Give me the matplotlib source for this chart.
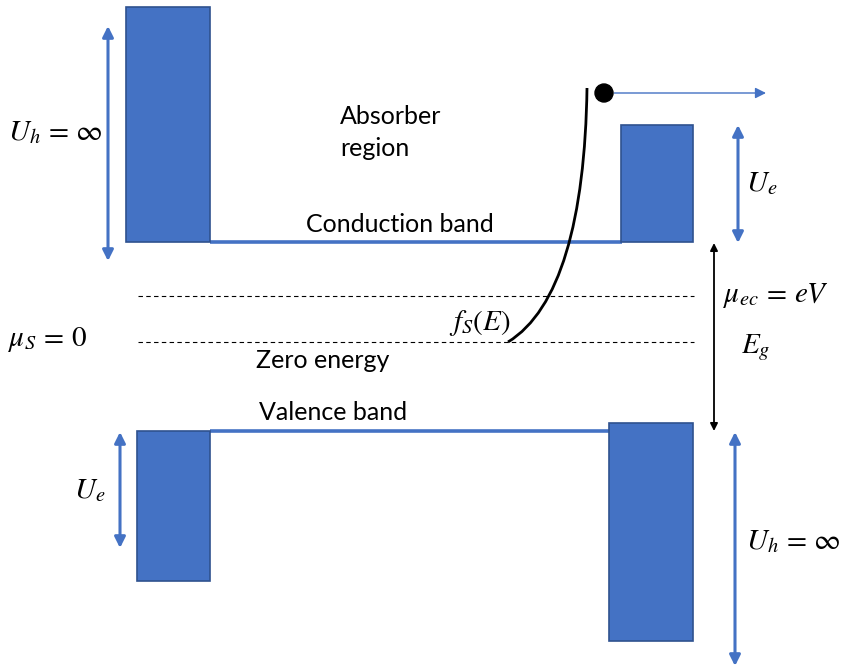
import matplotlib
matplotlib.use("Agg")
import matplotlib.pyplot as plt
from matplotlib.patches import Rectangle, PathPatch, Circle
from matplotlib.path import Path

plt.rcParams['mathtext.fontset'] = 'stix'

W, H = 842, 671
BLUE = '#4472C4'
EDGE = '#2F528F'

# barrier rectangles: (x0, y0_top, x1, y1_bottom) in pixel-like diagram units
barriers = [
    (126, 7, 210, 242),
    (621, 125, 693, 242),
    (137, 431, 210, 581),
    (609, 423, 693, 641),
]
# band lines: (x0, x1, y)
bands = [(210, 622, 242), (210, 610, 431)]
# dashed levels: (x0, x1, y)
levels = [(138, 694, 296), (138, 694, 342)]
# blue double arrows: (x, y_top, y_bottom)
blue_arrows = [(108, 26, 261), (738, 125, 243), (120, 432, 548), (735, 432, 666)]
# black double arrow (Eg)
eg_arrow = (714, 243, 431)
# f_S(E) curve Bezier control points
curve_pts = [(508, 342), (560, 310), (585, 220), (587, 88)]
# electron
dot = (604, 93)
dot_arrow = (614, 766, 93)

texts = [
    (340, 117, 'Absorber', 'left'),
    (340, 149, 'region', 'left'),
    (400, 224, 'Conduction band', 'center'),
    (323, 360, 'Zero energy', 'center'),
    (333, 412, 'Valence band', 'center'),
]
math_texts = [
    (55, 132, r'$U_h\,=\,\infty$'),
    (762, 183, r'$U_e$'),
    (48, 339, r'$\mu_S\,=\,0$'),
    (480, 323, r'$f_S(E)$'),
    (776, 296, r'$\mu_{ec}\,=\,eV$'),
    (756, 348, r'$E_g$'),
    (90, 490, r'$U_e$'),
    (793, 541, r'$U_h\,=\,\infty$'),
]

fig = plt.figure(figsize=(W / 100, H / 100), dpi=100)
ax = fig.add_axes([0, 0, 1, 1])
ax.set_xlim(0, W)
ax.set_ylim(H, 0)
ax.axis('off')

for x0, y0, x1, y1 in barriers:
    ax.add_patch(Rectangle((x0, y0), x1 - x0, y1 - y0, facecolor=BLUE,
                           edgecolor=EDGE, linewidth=1.2, zorder=2))
for x0, x1, y in bands:
    ax.plot([x0, x1], [y, y], color=BLUE, lw=2.6, zorder=1,
            solid_capstyle='butt')
for x0, x1, y in levels:
    ax.plot([x0, x1], [y, y], color='black', lw=0.8, ls=(0, (4, 3)), zorder=1)

for x, y0, y1 in blue_arrows:
    ax.annotate('', xy=(x, y0), xytext=(x, y1),
                arrowprops=dict(arrowstyle='<|-|>', color=BLUE, lw=2.2,
                                mutation_scale=16, shrinkA=0, shrinkB=0))
x, y0, y1 = eg_arrow
ax.annotate('', xy=(x, y0), xytext=(x, y1),
            arrowprops=dict(arrowstyle='<|-|>', color='black', lw=1.3,
                            mutation_scale=11, shrinkA=0, shrinkB=0))

path = Path(curve_pts, [Path.MOVETO, Path.CURVE4, Path.CURVE4, Path.CURVE4])
ax.add_patch(PathPatch(path, facecolor='none', edgecolor='black', lw=2.0, zorder=3))

ax.add_patch(Circle(dot, 9, color='black', zorder=4))
x0, x1, y = dot_arrow
ax.annotate('', xy=(x1, y), xytext=(x0, y),
            arrowprops=dict(arrowstyle='-|>', color=BLUE, lw=1.0,
                            mutation_scale=16, shrinkA=0, shrinkB=0))

for x, y, s, ha in texts:
    ax.text(x, y, s, ha=ha, va='center', fontsize=18, family='Lato')
for x, y, s in math_texts:
    ax.text(x, y, s, ha='center', va='center', fontsize=21)

fig.savefig('out.png', dpi=100)
